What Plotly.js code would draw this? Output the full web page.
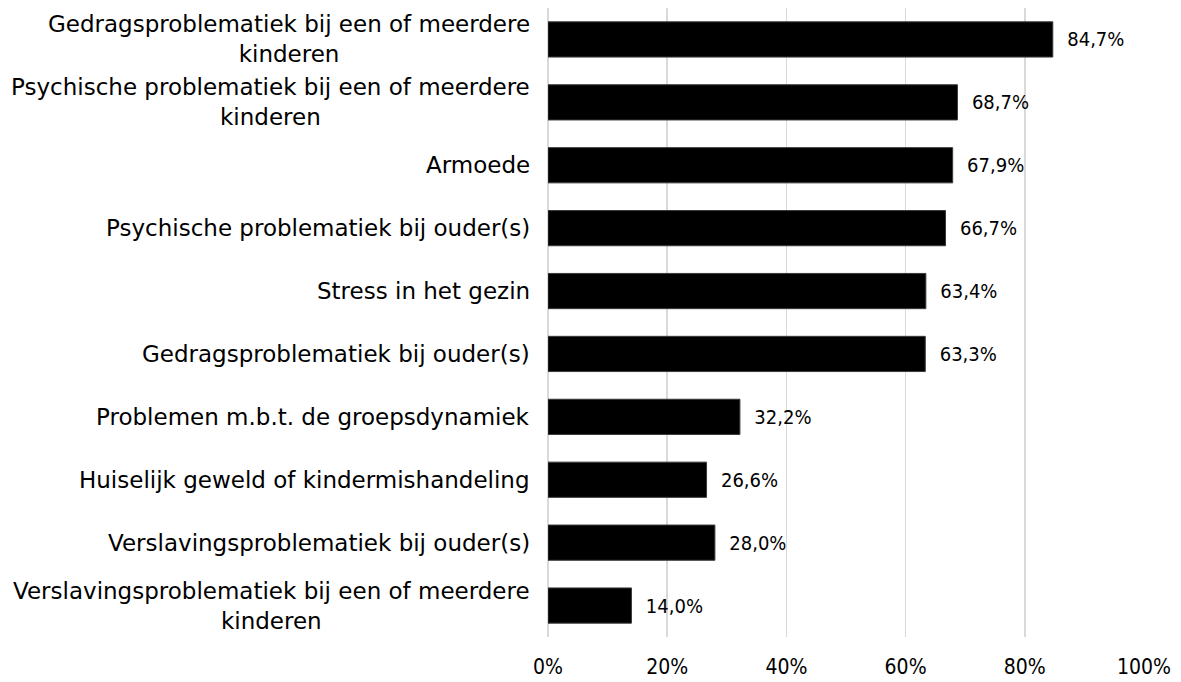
<!DOCTYPE html>
<html>
<head>
<meta charset="utf-8">
<script src="https://cdn.plot.ly/plotly-3.0.1.min.js"></script>
<style>
    html, body { margin: 0; padding: 0; background: #ffffff; }
    #chart { width: 1181px; height: 682px; }
</style>
</head>
<body>
<div id="chart"></div>
<script>
// Categories, top to bottom
const Categories = [
    'Gedragsproblematiek bij een of meerdere<br>kinderen',
    'Psychische problematiek bij een of meerdere<br>kinderen',
    'Armoede',
    'Psychische problematiek bij ouder(s)',
    'Stress in het gezin',
    'Gedragsproblematiek bij ouder(s)',
    'Problemen m.b.t. de groepsdynamiek',
    'Huiselijk geweld of kindermishandeling',
    'Verslavingsproblematiek bij ouder(s)',
    'Verslavingsproblematiek bij een of meerdere<br>kinderen'
];

// Percentages per category
const Values = [84.7, 68.7, 67.9, 66.7, 63.4, 63.3, 32.2, 26.6, 28.0, 14.0];

// X axis ticks
const TickValues = [0, 20, 40, 60, 80, 100];
const TickLabels = ['0%', '20%', '40%', '60%', '80%', '100%'];

const LabelFont = 'DejaVu Sans, Verdana, sans-serif';
const NumberFont = 'DejaVu Sans Condensed, sans-serif';

// Bars, with the category index as y so the top one comes first
var yIndex = Categories.map((c, i) => i);

var trace = {
    type: 'bar',
    orientation: 'h',
    x: Values,
    y: yIndex,
    marker: { color: '#000000', line: { color: '#3a3a3a', width: 1 } },
    text: Values.map(v => '  ' + v.toFixed(1).replace('.', ',') + '%'),
    textposition: 'outside',
    constraintext: 'none',
    cliponaxis: false,
    textfont: { family: NumberFont, size: 20, color: '#000000' },
    hoverinfo: 'none'
};

// Category labels centred per line, placed on the category axis
var annotations = Categories.map((c, i) => ({
    xref: 'paper',
    yref: 'y',
    x: 0,
    y: i,
    xshift: -16,
    xanchor: 'right',
    yanchor: 'middle',
    align: 'center',
    showarrow: false,
    text: c,
    font: { family: LabelFont, size: 23, color: '#000000' }
}));

var layout = {
    width: 1181,
    height: 682,
    margin: { l: 548, r: 37, t: 8, b: 45 },
    paper_bgcolor: '#ffffff',
    plot_bgcolor: '#ffffff',
    bargap: 0.44,
    showlegend: false,
    xaxis: {
        range: [0, 100],
        tickvals: TickValues,
        ticktext: TickLabels,
        showgrid: true,
        gridcolor: '#d9d9d9',
        gridwidth: 1.5,
        zeroline: true,
        zerolinecolor: '#d9d9d9',
        zerolinewidth: 1.5,
        showline: false,
        ticks: '',
        ticklabelstandoff: 15,
        tickfont: { family: NumberFont, size: 21, color: '#000000' },
        fixedrange: true
    },
    yaxis: {
        range: [Categories.length - 0.5, -0.5],
        showticklabels: false,
        showgrid: false,
        zeroline: false,
        showline: false,
        ticks: '',
        fixedrange: true
    },
    annotations: annotations
};

Plotly.newPlot('chart', [trace], layout, { displayModeBar: false, staticPlot: true });
</script>
</body>
</html>
